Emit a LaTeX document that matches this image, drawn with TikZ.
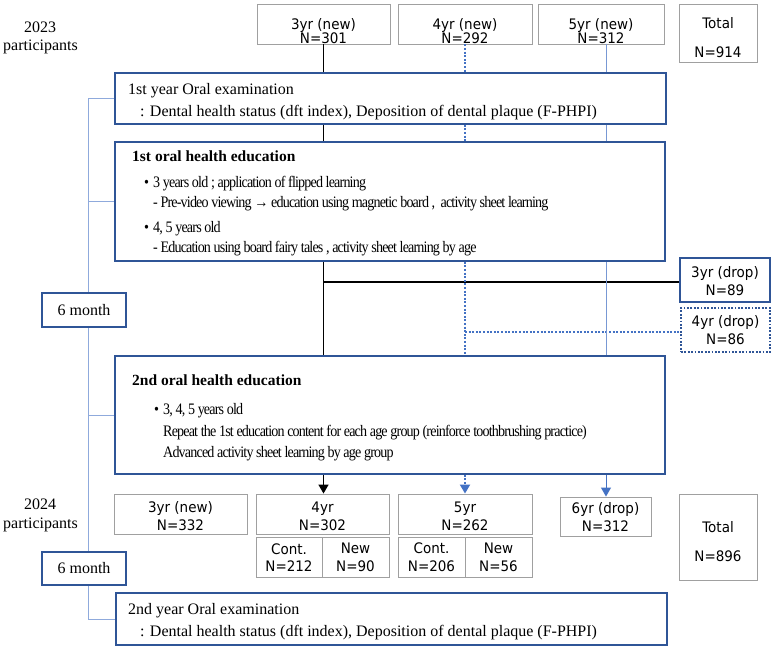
\documentclass[tikz,border=0pt]{standalone}
\usepackage{fontspec}
\setmainfont{Liberation Serif}
\newfontfamily\sansf{DejaVu Sans}[FakeStretch=0.93]
\newfontfamily\condf{Liberation Serif}[FakeStretch=0.88, LetterSpace=-5.2]
\usetikzlibrary{arrows.meta}
\definecolor{dblue}{RGB}{47,85,151}
\definecolor{mblue}{RGB}{68,114,196}
\definecolor{lblue}{RGB}{120,152,212}
\definecolor{brk}{RGB}{143,170,220}
\definecolor{boxgray}{RGB}{160,160,160}
\newcommand\mys[1]{\rule{0pt}{#1pt}}
\begin{document}
\lineskiplimit=-100pt\relax
\begin{tikzpicture}[x=1pt,y=-1pt,
  bluebox/.style={draw=dblue, line width=1.5pt, fill=white, inner sep=0pt},
  sansfont/.style={font=\sansf\fontsize{14.5}{#1}\selectfont},
  dotbox/.style={draw=dblue, line width=1.8pt, dash pattern=on 1.8pt off 1.6pt, fill=white, inner sep=0pt,
     sansfont=17.5, align=center},
  graybox/.style={draw=boxgray, line width=0.9pt, fill=white, inner sep=0pt,
     sansfont=17.5, align=center},
  toprow/.style={graybox, sansfont=14},
  totbox/.style={graybox, sansfont=29},
  monthbox/.style={bluebox, font=\fontsize{16}{16}\selectfont},
  dropbox/.style={bluebox, sansfont=17.5, align=center},
  txt/.style={anchor=base west, inner sep=0pt, font=\fontsize{16}{16}\selectfont},
  head/.style={anchor=base west, inner sep=0pt, font=\bfseries\fontsize{15.5}{16}\selectfont},
  ctxt/.style={anchor=base west, inner sep=0pt, font=\condf\fontsize{16}{16}\selectfont},
  lbl/.style={anchor=base, inner sep=0pt, font=\fontsize{16}{16}\selectfont},
  blk/.style={draw=black, line width=1.5pt},
  dotl/.style={draw=mblue, line width=2pt, dash pattern=on 2pt off 1.6pt},
  lbl5/.style={draw=lblue, line width=1pt},
  brkl/.style={draw=brk, line width=1pt},
  tip/.style={-{Triangle[length=9pt,width=10pt]}}
]
\useasboundingbox (0,0) rectangle (779,650);

% left labels
\node[lbl] (y23a) at (40,32.5) {2023};
\node[lbl] (y23b) at (40.5,51) {participants};
\node[lbl] (y24a) at (40,509) {2024};
\node[lbl] (y24b) at (40.5,528) {participants};

% top row
\node[toprow, minimum width=133pt, minimum height=40pt] (t3) at (323.5,24) {\mys{25}3yr (new)\\N=301};
\node[toprow, minimum width=134pt, minimum height=40pt] (t4) at (465,24) {\mys{25}4yr (new)\\N=292};
\node[toprow, minimum width=126pt, minimum height=40pt] (t5) at (601,24) {\mys{25}5yr (new)\\N=312};
\node[totbox, minimum width=78pt, minimum height=58pt] (tot1) at (718,33) {\mys{20.5}Total\\N=914};

% main boxes
\node[bluebox, minimum width=551pt, minimum height=51pt] (ex1) at (390.5,98.5) {};
\node[bluebox, minimum width=550pt, minimum height=119pt] (ed1) at (390,201.5) {};
\node[dropbox, minimum width=90pt, minimum height=44pt] (d3) at (725,280) {\mys{13}3yr (drop)\\N=89};
\node[dotbox, minimum width=89pt, minimum height=44pt] (d4) at (725.5,330) {\mys{11.6}4yr (drop)\\N=86};
\node[monthbox, minimum width=84pt, minimum height=34pt] (m1) at (84,310) {6 month};
\node[bluebox, minimum width=550pt, minimum height=118pt] (ed2) at (390,415) {};

% 2024 row
\node[graybox, minimum width=133pt, minimum height=40pt] (n3) at (180.5,514) {\mys{15}3yr (new)\\N=332};
\node[graybox, minimum width=133pt, minimum height=40pt] (n4) at (322.5,514) {\mys{15}4yr\\N=302};
\node[graybox, minimum width=66pt, minimum height=40pt] (n4a) at (289,557) {\mys{11.5}Cont.\\N=212};
\node[graybox, minimum width=67pt, minimum height=40pt] (n4b) at (355.5,557) {\mys{11.5}New\\N=90};
\node[graybox, minimum width=134pt, minimum height=40pt] (n5) at (465,514) {\mys{15}5yr\\N=262};
\node[graybox, minimum width=67pt, minimum height=40pt] (n5a) at (431.5,557) {\mys{11.5}Cont.\\N=206};
\node[graybox, minimum width=67pt, minimum height=40pt] (n5b) at (498.5,557) {\mys{11.5}New\\N=56};
\node[graybox, minimum width=91pt, minimum height=39pt] (n6) at (605.5,516.5) {\mys{12}6yr (drop)\\N=312};
\node[totbox, minimum width=78pt, minimum height=86pt] (tot2) at (718,537) {\mys{20.5}Total\\N=896};
\node[monthbox, minimum width=84pt, minimum height=33pt] (m2) at (84,568.5) {6 month};
\node[bluebox, minimum width=551pt, minimum height=52pt] (ex2) at (391.5,619) {};

% texts in boxes
\node[txt] (ex1a) at (128,95) {1st year Oral examination};
\node[txt] (ex1b) at (140,117) {: Dental health status (dft index), Deposition of dental plaque (F-PHPI)};

\node[head] (ed1h) at (132,161.5) {1st oral health education};
\node[ctxt] (ed1b1) at (144,187) {•};
\node[ctxt] (ed1t1) at (153,187) {3 years old ; application of flipped learning};
\node[ctxt] (ed1t2) at (153,207) {- Pre-video viewing → education using magnetic board ,\ \ activity sheet learning};
\node[ctxt] (ed1b2) at (144,232) {•};
\node[ctxt] (ed1t3) at (153,232) {4, 5 years old};
\node[ctxt] (ed1t4) at (153,252.5) {- Education using board fairy tales , activity sheet learning by age};

\node[head] (ed2h) at (132,385) {2nd oral health education};
\node[ctxt] (ed2b1) at (154,414) {•};
\node[ctxt] (ed2t1) at (163,414) {3, 4, 5 years old};
\node[ctxt] (ed2t2) at (163,436) {Repeat the 1st education content for each age group (reinforce toothbrushing practice)};
\node[ctxt] (ed2t3) at (163,457) {Advanced activity sheet learning by age group};

\node[txt] (ex2a) at (128,614) {2nd year Oral examination};
\node[txt] (ex2b) at (140,636) {: Dental health status (dft index), Deposition of dental plaque (F-PHPI)};

% 3yr black line
\draw[blk] (t3.south) -- (t3.south |- ex1.north);
\draw[blk] (t3.south |- ex1.south) -- (t3.south |- ed1.north);
\draw[blk] (t3.south |- ed1.south) -- (t3.south |- ed2.north);
\coordinate (b3) at (323.5,282);
\draw[blk] (b3) -- (b3 -| d3.west);
\draw[blk, tip] (t3.south |- ed2.south) -- (t3.south |- n4.north);

% 4yr dotted line
\draw[dotl] (t4.south) -- (t4.south |- ex1.north);
\draw[dotl] (t4.south |- ex1.south) -- (t4.south |- ed1.north);
\draw[dotl] (t4.south |- ed1.south) -- (t4.south |- ed2.north);
\coordinate (b4) at (465,332);
\draw[dotl] (b4) -- (b4 -| d4.west);
\draw[dotl, tip, mblue] (t4.south |- ed2.south) -- (n5.north);

% 5yr line
\coordinate (c5) at (606,44);
\draw[lbl5] (c5) -- (c5 |- ex1.north);
\draw[lbl5] (c5 |- ex1.south) -- (c5 |- ed1.north);
\draw[lbl5] (c5 |- ed1.south) -- (c5 |- ed2.north);
\draw[lbl5, tip, fill=mblue, draw=mblue] (c5 |- ed2.south) -- (c5 |- n6.north);

% left bracket
\coordinate (k1) at (88,98.5);
\draw[brkl] (ex1.west) -- (k1) -- (k1 |- m1.north);
\draw[brkl] (k1 |- ed1.west) -- (ed1.west);
\draw[brkl] (k1 |- m1.south) -- (k1 |- m2.north);
\draw[brkl] (k1 |- ed2.west) -- (ed2.west);
\draw[brkl] (k1 |- m2.south) -- (k1 |- ex2.west) -- (ex2.west);
\end{tikzpicture}
\end{document}
